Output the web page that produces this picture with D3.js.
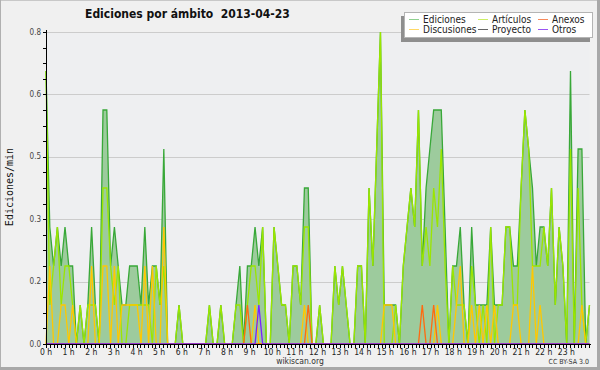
<!DOCTYPE html>
<html>
<head>
<meta charset="utf-8">
<script src="https://cdn.jsdelivr.net/npm/d3@7"></script>
<style>
  html, body { margin: 0; padding: 0; background: #f0f0f0; }
  svg { display: block; }
  text { font-family: "DejaVu Sans Condensed", "DejaVu Sans", sans-serif; }
</style>
</head>
<body>
<svg id="chart" width="600" height="370"></svg>
<script>
// Edits per minute, one value per 10-minute slot (144 slots, 00:00 -> 23:50)
const ediciones = [
  0.7,0.3,0.2,0.3,0.2,0.3,0.2,0.2,0,0.1,
  0,0.1,0.3,0.1,0,0.6,0.6,0.2,0.3,0.2,
  0.1,0.1,0.2,0.2,0.2,0.1,0.3,0.1,0.2,0.2,
  0.1,0.5,0,0,0,0.1,0,0,0,0,
  0,0,0,0.1,0,0,0.1,0,0,0,
  0.1,0.2,0,0.2,0.2,0.3,0.2,0.3,0,0,
  0.3,0.2,0.1,0.1,0,0.2,0.2,0.1,0.4,0.4,
  0,0,0.1,0,0,0,0.2,0.1,0.2,0.1,
  0,0,0.2,0.2,0,0.4,0.2,0.5,0.8,0.1,
  0.1,0.1,0.1,0,0.2,0.3,0.4,0.3,0.6,0.2,
  0.4,0.5,0.6,0.6,0.6,0.3,0,0.2,0.2,0.3,
  0.1,0,0.3,0.1,0.1,0.1,0.1,0.3,0.1,0.1,
  0.1,0.3,0.3,0.2,0.2,0.4,0.6,0.5,0.4,0.2,
  0.3,0.3,0.2,0.4,0.1,0.3,0.2,0,0.7,0,
  0.5,0.5,0,0.1
];

const articulos = [
  0.7,0.1,0.2,0.3,0.1,0.2,0.2,0.1,0,0.1,
  0,0.1,0.1,0.1,0,0.4,0.4,0.2,0.1,0.2,
  0,0,0.1,0.1,0.1,0.1,0.1,0.1,0,0.2,
  0.1,0.2,0,0,0,0.1,0,0,0,0,
  0,0,0,0.1,0,0,0.1,0,0,0,
  0.1,0.1,0,0.1,0.2,0.2,0.1,0.3,0,0,
  0.3,0.2,0.1,0.1,0,0.2,0.2,0.1,0.3,0.3,
  0,0,0.1,0,0,0,0.2,0.1,0.2,0.1,
  0,0,0.2,0.2,0,0.4,0.2,0.5,0.8,0,
  0,0,0.1,0,0.2,0.3,0.4,0.3,0.6,0.2,
  0.3,0.2,0.4,0.3,0.5,0.2,0,0.2,0.1,0.1,
  0.1,0,0.2,0.1,0,0.1,0,0.3,0,0.1,
  0.1,0.3,0.3,0.1,0.1,0.4,0.6,0.5,0.2,0.2,
  0.2,0.3,0.2,0.4,0.1,0.3,0.2,0,0.5,0,
  0.4,0.1,0,0.1
];

const discusiones = [
  0,0.2,0,0,0.1,0.1,0,0.1,0,0,
  0,0,0.2,0,0,0.2,0.2,0,0.2,0,
  0.1,0.1,0.1,0.1,0.1,0,0.2,0,0.2,0,
  0,0.3,0,0,0,0,0,0,0,0,
  0,0,0,0,0,0,0,0,0,0,
  0,0,0,0,0,0.1,0,0,0,0,
  0,0,0,0,0,0,0,0,0.1,0,
  0,0,0,0,0,0,0,0,0,0,
  0,0,0,0,0,0,0,0,0,0.1,
  0.1,0.1,0,0,0,0,0,0,0,0,
  0,0,0,0.1,0,0,0,0,0.1,0.2,
  0,0,0.1,0,0.1,0,0.1,0,0.1,0,
  0,0,0,0.1,0.1,0,0,0,0.2,0,
  0.1,0,0,0,0,0,0,0,0,0,
  0,0.1,0,0
];

const anexos = [
  0,0,0,0,0,0,0,0,0,0,
  0,0,0,0,0,0,0,0,0,0,
  0,0,0,0,0,0,0,0,0,0,
  0,0,0,0,0,0,0,0,0,0,
  0,0,0,0,0,0,0,0,0,0,
  0,0,0,0.1,0,0,0,0,0,0,
  0,0,0,0,0,0,0,0,0,0.1,
  0,0,0,0,0,0,0,0,0,0,
  0,0,0,0,0,0,0,0,0,0,
  0,0,0,0,0,0,0,0,0,0.1,
  0,0,0.1,0,0,0,0,0,0,0,
  0,0,0,0,0,0,0,0,0,0,
  0,0,0,0,0,0,0,0,0,0,
  0,0,0,0,0,0,0,0,0,0,
  0,0,0,0
];

const otros = [
  0,0,0,0,0,0,0,0,0,0,
  0,0,0,0,0,0,0,0,0,0,
  0,0,0,0,0,0,0,0,0,0,
  0,0,0,0,0,0,0,0,0,0,
  0,0,0,0,0,0,0,0,0,0,
  0,0,0,0,0,0,0.1,0,0,0,
  0,0,0,0,0,0,0,0,0,0,
  0,0,0,0,0,0,0,0,0,0,
  0,0,0,0,0,0,0,0,0,0,
  0,0,0,0,0,0,0,0,0,0,
  0,0,0,0,0,0,0,0,0,0,
  0,0,0,0,0,0,0,0,0,0,
  0,0,0,0,0,0,0,0,0,0,
  0,0,0,0,0,0,0,0,0,0,
  0,0,0,0
];

const hourLabels = ['0 h','1 h','2 h','3 h','4 h','5 h','6 h','7 h','8 h','9 h','10 h','11 h',
                    '12 h','13 h','14 h','15 h','16 h','17 h','18 h','19 h','20 h','21 h','22 h','23 h'];
const yTicks = [0, 0.16, 0.32, 0.48, 0.64, 0.8];

const legendItems = [
  { name: 'Ediciones',   color: '#8fd08f', col: 0, row: 0 },
  { name: 'Artículos',   color: '#ccee66', col: 1, row: 0 },
  { name: 'Anexos',      color: '#f78a5c', col: 2, row: 0 },
  { name: 'Discusiones', color: '#ffd866', col: 0, row: 1 },
  { name: 'Proyecto',    color: '#666666', col: 1, row: 1 },
  { name: 'Otros',       color: '#9a55f2', col: 2, row: 1 },
];

// ── Layout ────────────────────────────────────────────────────────────────
const W = 600, H = 370;
const plotL = 46, plotR = 589.5, plotT = 32, plotB = 344;

const svg = d3.select('#chart');

const x = d3.scaleLinear().domain([0, ediciones.length - 1]).range([plotL, plotR]);
const xh = d3.scaleLinear().domain([0, 24]).range([plotL, 589]);
const y = d3.scaleLinear().domain([0, 0.8]).range([plotB, plotT]);

// frame
svg.append('rect').attr('width', W).attr('height', H).attr('fill', '#f0f0f0');
svg.append('rect').attr('x', 0).attr('y', 0).attr('width', W).attr('height', 1).attr('fill', '#c8c8c8');
svg.append('rect').attr('x', 0).attr('y', 0).attr('width', 1).attr('height', H).attr('fill', '#b0b0b0');
svg.append('rect').attr('x', W - 3).attr('y', 0).attr('width', 3).attr('height', H).attr('fill', '#a8a8a8');
svg.append('rect').attr('x', 0).attr('y', H - 3).attr('width', W).attr('height', 3).attr('fill', '#a8a8a8');

// plot background
svg.append('rect')
  .attr('x', plotL).attr('y', plotT)
  .attr('width', plotR - plotL).attr('height', plotB - plotT)
  .attr('fill', '#eeeff1');

// grid
svg.append('g').selectAll('line')
  .data(yTicks.slice(1))
  .join('line')
  .attr('x1', plotL).attr('x2', plotR)
  .attr('y1', d => Math.round(y(d)) + 0.5)
  .attr('y2', d => Math.round(y(d)) + 0.5)
  .attr('stroke', '#cccccc')
  .attr('stroke-width', 1);

// ── Series ────────────────────────────────────────────────────────────────
const area = d3.area()
  .x((d, i) => x(i))
  .y0(y(0))
  .y1(d => y(d));

const line = d3.line()
  .x((d, i) => x(i))
  .y(d => y(d));

svg.append('path')
  .datum(ediciones)
  .attr('d', area)
  .attr('fill', '#9dcb9d');

const series = [
  { data: ediciones,   color: '#38a838' },
  { data: articulos,   color: '#9be600' },
  { data: discusiones, color: '#ffc800' },
  { data: anexos,      color: '#ff6a10' },
  { data: otros,       color: '#7a22ff' },
];

svg.append('g').selectAll('path')
  .data(series)
  .join('path')
  .attr('d', d => line(d.data))
  .attr('fill', 'none')
  .attr('stroke', d => d.color)
  .attr('stroke-width', 1.3)
  .attr('stroke-linejoin', 'miter');

// ── Axes ──────────────────────────────────────────────────────────────────
const axisG = svg.append('g').attr('stroke', '#000').attr('shape-rendering', 'crispEdges');

// y axis
axisG.append('line')
  .attr('x1', plotL + 0.5).attr('x2', plotL + 0.5)
  .attr('y1', plotT - 2).attr('y2', plotB + 0.5);

axisG.selectAll('.ytick')
  .data(d3.range(0, 21).map(k => k * 0.04))
  .join('line')
  .attr('class', 'ytick')
  .attr('x1', plotL - 3).attr('x2', plotL)
  .attr('y1', d => Math.round(y(d)) + 0.5)
  .attr('y2', d => Math.round(y(d)) + 0.5);

svg.append('g').selectAll('text')
  .data(yTicks)
  .join('text')
  .attr('x', plotL - 5)
  .attr('y', d => y(d) + 2.5)
  .attr('text-anchor', 'end')
  .attr('font-size', 8)
  .attr('fill', '#444')
  .text(d => d3.format('.1f')(d));

// x axis
axisG.append('line')
  .attr('x1', plotL).attr('x2', plotR + 1)
  .attr('y1', plotB + 0.5).attr('y2', plotB + 0.5);

axisG.selectAll('.xtick')
  .data(d3.range(0, 145).map(k => k / 6))
  .join('line')
  .attr('class', 'xtick')
  .attr('x1', d => Math.round(xh(d)) + 0.5)
  .attr('x2', d => Math.round(xh(d)) + 0.5)
  .attr('y1', plotB)
  .attr('y2', plotB + 4);

svg.append('g').selectAll('text')
  .data(hourLabels)
  .join('text')
  .attr('x', (d, i) => xh(i))
  .attr('y', plotB + 10.5)
  .attr('text-anchor', 'middle')
  .attr('font-size', 8.5)
  .attr('fill', '#222')
  .text(d => d);

// ── Texts ─────────────────────────────────────────────────────────────────
svg.append('text')
  .attr('x', 85).attr('y', 18)
  .attr('font-size', 12)
  .attr('font-weight', 'bold')
  .attr('fill', '#111')
  .style('white-space', 'pre')
  .text('Ediciones por ámbito  2013-04-23');

svg.append('text')
  .attr('transform', 'translate(13,187) rotate(-90)')
  .attr('text-anchor', 'middle')
  .attr('font-size', 10)
  .attr('fill', '#111')
  .style('font-family', '"DejaVu Sans Mono", monospace')
  .text('Ediciones/min');

svg.append('text')
  .attr('x', 300).attr('y', 364)
  .attr('text-anchor', 'middle')
  .attr('font-size', 8.5)
  .attr('fill', '#333')
  .text('wikiscan.org');

svg.append('text')
  .attr('x', 589).attr('y', 364)
  .attr('text-anchor', 'end')
  .attr('font-size', 7)
  .attr('fill', '#333')
  .text('CC BY-SA 3.0');

// ── Legend ────────────────────────────────────────────────────────────────
const lg = svg.append('g');
lg.append('rect')
  .attr('x', 401).attr('y', 16).attr('width', 189).attr('height', 26)
  .attr('fill', '#8e8e8e');
lg.append('rect')
  .attr('x', 404.5).attr('y', 12.5).attr('width', 188).attr('height', 25)
  .attr('fill', '#ffffff')
  .attr('stroke', '#b4b4b4');

const colX = [409, 478, 538];
const item = lg.selectAll('g.item')
  .data(legendItems)
  .join('g')
  .attr('class', 'item')
  .attr('transform', d => `translate(${colX[d.col]},${19 + d.row * 10})`);

item.append('line')
  .attr('x1', 0).attr('x2', 10)
  .attr('y1', 0.5).attr('y2', 0.5)
  .attr('stroke', d => d.color)
  .attr('stroke-width', 1);

item.append('text')
  .attr('x', 14).attr('y', 3.5)
  .attr('font-size', 10)
  .attr('fill', '#222')
  .text(d => d.name);
</script>
</body>
</html>
